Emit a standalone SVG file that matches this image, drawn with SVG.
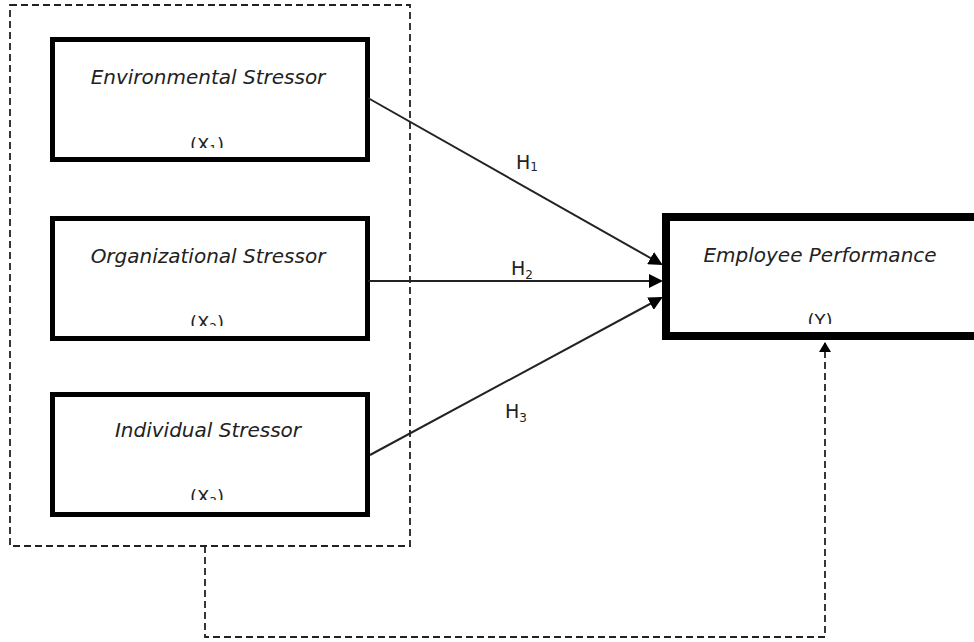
<svg xmlns="http://www.w3.org/2000/svg" width="974" height="642" viewBox="0 0 974 642">
<style>
.box{fill:#fff;stroke:#000;stroke-width:5}
.big{fill:#fff;stroke:#000;stroke-width:8}
.t{font-family:"DejaVu Sans",sans-serif;font-style:italic;font-size:20px;fill:#222;text-anchor:middle}
.v{font-family:"DejaVu Sans",sans-serif;font-size:18px;fill:#222;text-anchor:middle}
.h{font-family:"DejaVu Sans",sans-serif;font-size:19px;fill:#222}
.ln{stroke:#222;stroke-width:2;fill:none}
.dash{stroke:#222;stroke-width:1.8;fill:none;stroke-dasharray:7,4}
</style>
<defs>
<marker id="ah" markerWidth="10" markerHeight="12" refX="9" refY="6" orient="auto" markerUnits="userSpaceOnUse" viewBox="0 0 10 12">
<path d="M0,0 L10,6 L0,12 z" fill="#000"/>
</marker>
<marker id="ah2" markerWidth="14" markerHeight="14" refX="12" refY="7" orient="auto" markerUnits="userSpaceOnUse" viewBox="0 0 14 14">
<path d="M0,0 L14,7 L0,14 z" fill="#000"/>
</marker>
<clipPath id="c1"><rect x="150" y="125" width="120" height="23"/></clipPath>
<clipPath id="c2"><rect x="150" y="303" width="120" height="23"/></clipPath>
<clipPath id="c3"><rect x="150" y="477" width="120" height="23"/></clipPath>
<clipPath id="c4"><rect x="780" y="300" width="90" height="24"/></clipPath>
<clipPath id="ch1"><rect x="510" y="150" width="40" height="21"/></clipPath>
</defs>
<g id="group">
<rect x="10" y="5" width="400" height="541" class="dash"/>
</g>
<g id="env">
<rect x="52.5" y="39.5" width="315" height="120" class="box"/>
<text x="208" y="84" class="t">Environmental Stressor</text>
<text x="207" y="151" class="v" clip-path="url(#c1)">(X<tspan font-size="12" dy="3">1</tspan><tspan dy="-3">)</tspan></text>
</g>
<g id="org">
<rect x="52.5" y="218.5" width="315" height="120" class="box"/>
<text x="208" y="263" class="t">Organizational Stressor</text>
<text x="207" y="329" class="v" clip-path="url(#c2)">(X<tspan font-size="12" dy="3">2</tspan><tspan dy="-3">)</tspan></text>
</g>
<g id="ind">
<rect x="52.5" y="394.5" width="315" height="120" class="box"/>
<text x="208" y="437" class="t">Individual Stressor</text>
<text x="207" y="503" class="v" clip-path="url(#c3)">(X<tspan font-size="12" dy="3">3</tspan><tspan dy="-3">)</tspan></text>
</g>
<g id="emp">
<rect x="666" y="217" width="320" height="119" class="big"/>
<text x="820" y="262" class="t">Employee  Performance</text>
<text x="820" y="327" class="v" clip-path="url(#c4)">(Y)</text>
</g>
<g id="connectors">
<line x1="368" y1="98" x2="661" y2="264" class="ln" marker-end="url(#ah2)"/>
<line x1="368" y1="281" x2="661" y2="281" class="ln" marker-end="url(#ah2)"/>
<line x1="370" y1="455" x2="661" y2="298" class="ln" marker-end="url(#ah2)"/>
<polyline points="205,546 205,637 825,637 825,343" class="dash" marker-end="url(#ah)"/>
<text x="516" y="169" class="h" clip-path="url(#ch1)">H<tspan font-size="12" dy="2">1</tspan></text>
<text x="511" y="275" class="h">H<tspan font-size="12" dy="4">2</tspan></text>
<text x="505" y="418" class="h">H<tspan font-size="12" dy="4">3</tspan></text>
</g>
</svg>
